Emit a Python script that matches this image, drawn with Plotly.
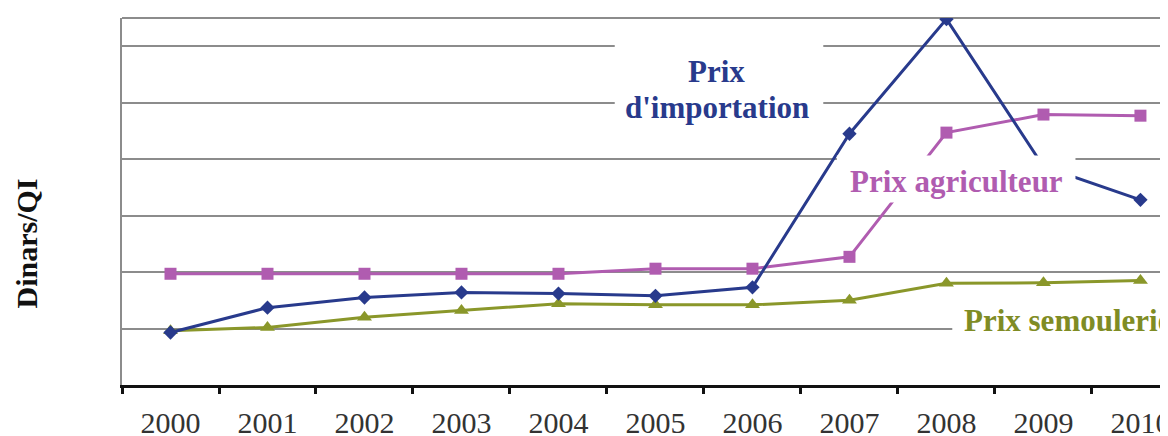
import plotly.graph_objects as go

years = ["2000", "2001", "2002", "2003", "2004", "2005", "2006", "2007", "2008", "2009", "2010"]
prix_importation = [930, 1370, 1550, 1640, 1620, 1580, 1730, 4450, 6480, 3870, 3280]
prix_agriculteur = [1970, 1970, 1970, 1970, 1970, 2060, 2060, 2270, 4470, 4790, 4770]
prix_semoulerie = [960, 1020, 1200, 1320, 1440, 1420, 1420, 1500, 1800, 1810, 1850]

BLUE = "#283a8c"
PINK = "#b05cb0"
OLIVE = "#8a972a"
GRID = "#8c8c8c"
SERIF = "'Liberation Serif', 'Times New Roman', serif"

fig = go.Figure()
fig.add_trace(go.Scatter(x=years, y=prix_semoulerie, mode="lines+markers",
                         line=dict(color=OLIVE, width=3),
                         marker=dict(symbol="triangle-up", size=13, color=OLIVE),
                         name="Prix semoulerie"))
fig.add_trace(go.Scatter(x=years, y=prix_agriculteur, mode="lines+markers",
                         line=dict(color=PINK, width=3),
                         marker=dict(symbol="square", size=12, color=PINK),
                         name="Prix agriculteur"))
fig.add_trace(go.Scatter(x=years, y=prix_importation, mode="lines+markers",
                         line=dict(color=BLUE, width=3),
                         marker=dict(symbol="diamond", size=11, color=BLUE),
                         name="Prix d'importation"))

# white boxes behind the labels (hide gridlines and lines like the original)
boxes = [(4.58, 6.73, 4510, 6280), (6.87, 9.33, 3232, 4065), (8.06, 11.5, 700, 1560)]
shapes = []
for x0, x1, y0, y1 in boxes:
    shapes.append(dict(type="rect", xref="x", yref="y", x0=x0, x1=x1, y0=y0, y1=y1,
                       fillcolor="white", line=dict(width=0), layer="above"))
# top border of plot area
shapes.append(dict(type="line", xref="paper", yref="paper", x0=0, x1=1, y0=1, y1=1,
                   line=dict(color=GRID, width=2), layer="below"))

annotations = [
    dict(text="<b>Prix</b>", x=5.634, y=5553, xref="x", yref="y", showarrow=False,
         font=dict(family=SERIF, size=31, color=BLUE), xanchor="center", yanchor="middle"),
    dict(text="<b>d'importation</b>", x=5.634, y=4915, xref="x", yref="y", showarrow=False,
         font=dict(family=SERIF, size=31, color=BLUE), xanchor="center", yanchor="middle"),
    dict(text="<b>Prix agriculteur</b>", x=8.103, y=3613, xref="x", yref="y", showarrow=False,
         font=dict(family=SERIF, size=31, color=PINK), xanchor="center", yanchor="middle"),
    dict(text="<b>Prix semoulerie</b>", x=8.16, y=1142, xref="x", yref="y", showarrow=False,
         font=dict(family=SERIF, size=31, color="#7f8c24"), xanchor="left", yanchor="middle"),
    dict(text="<b>Dinars/QI</b>", x=-0.091, y=0.385, xref="paper", yref="paper", showarrow=False,
         textangle=-90, font=dict(family=SERIF, size=30, color="#111111"),
         xanchor="center", yanchor="middle"),
]

fig.update_layout(
    width=1160, height=428,
    margin=dict(l=114, r=0, t=10, b=51),
    paper_bgcolor="white", plot_bgcolor="white",
    showlegend=False,
    shapes=shapes, annotations=annotations,
    xaxis=dict(type="category", range=[-0.5, 10.284], showgrid=False, automargin=False,
               showline=True, linecolor="#111111", linewidth=3,
               ticks="outside", tickson="boundaries", ticklen=6, tickwidth=3,
               tickcolor="#111111", ticklabelstandoff=9,
               tickfont=dict(family=SERIF, size=30, color="#333333")),
    yaxis=dict(range=[0, 6500], dtick=1000, showticklabels=False, automargin=False,
               showgrid=True, gridcolor=GRID, gridwidth=2, zeroline=False,
               showline=True, linecolor=GRID, linewidth=2, ticks=""),
)

fig.write_html("out.html")
